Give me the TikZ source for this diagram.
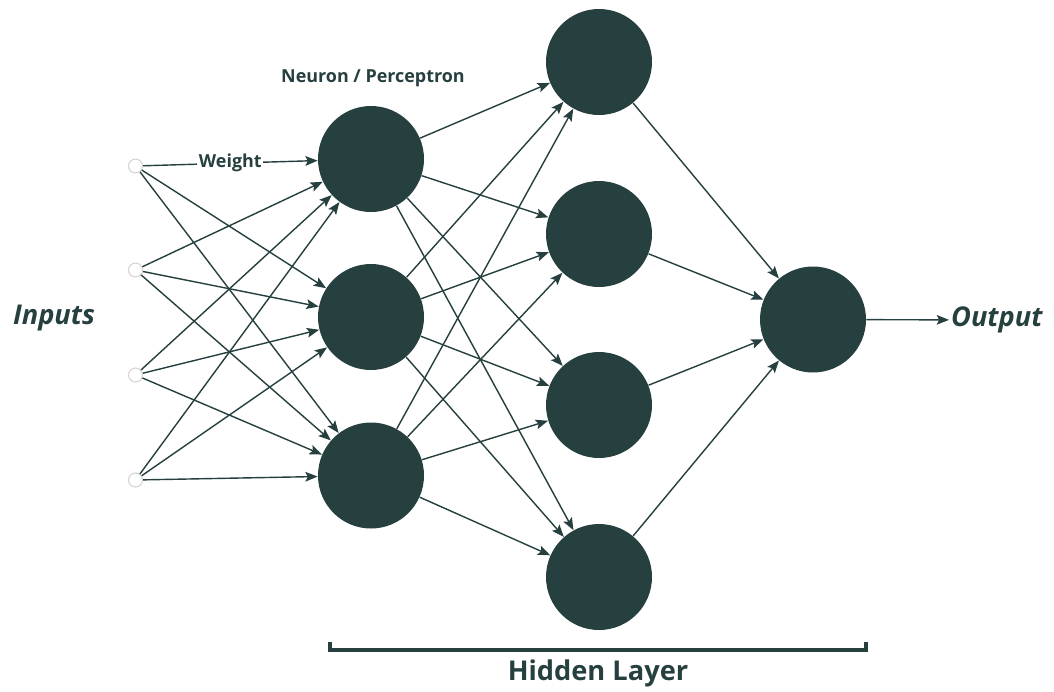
\documentclass[tikz,border=0pt]{standalone}
\usepackage{fontspec}
\setmainfont{Open Sans}
\usetikzlibrary{arrows.meta}
\definecolor{nndark}{HTML}{263F3F}
\definecolor{dotgrey}{HTML}{D2D2D2}
\tikzset{
  neuron/.style={circle,fill=nndark,minimum size=2.12cm,inner sep=0pt},
  inputdot/.style={circle,draw=dotgrey,fill=white,line width=0.6pt,minimum size=0.28cm,inner sep=0pt},
  link/.style={-{Stealth[length=7pt,width=5.5pt,inset=1.4pt]},draw=nndark,line width=0.8pt},
  smalllbl/.style={text=nndark,font=\bfseries\fontsize{10.2}{12}\selectfont},
  sidelbl/.style={text=nndark,font=\bfseries\itshape\fontsize{15.5}{18}\selectfont},
  layerlbl/.style={text=nndark,font=\bfseries\fontsize{15.5}{18}\selectfont},
}
\begin{document}
\begin{tikzpicture}
\useasboundingbox (0,0) rectangle (21.08,-13.82);
% inputs
\node[inputdot] (in1) at (2.71,-3.32) {};
\node[inputdot] (in2) at (2.71,-5.40) {};
\node[inputdot] (in3) at (2.71,-7.50) {};
\node[inputdot] (in4) at (2.71,-9.60) {};
% first hidden layer
\node[neuron] (hA1) at (7.42,-3.18) {};
\node[neuron] (hA2) at (7.42,-6.34) {};
\node[neuron] (hA3) at (7.42,-9.51) {};
% second hidden layer
\node[neuron] (hB1) at (11.98,-1.24) {};
\node[neuron] (hB2) at (11.98,-4.68) {};
\node[neuron] (hB3) at (11.98,-8.10) {};
\node[neuron] (hB4) at (11.98,-11.54) {};
% output
\node[neuron] (outn) at (16.26,-6.39) {};
\node[sidelbl,anchor=west,inner sep=1pt] (outtxt) at (18.98,-6.40) {Output};
\node[sidelbl] (intxt) at (1.08,-6.36) {Inputs};
\node[smalllbl] (neulbl) at (7.46,-1.56) {Neuron / Perceptron};
% inputs -> first layer
\draw[link] (in1) -- node[smalllbl,fill=white,inner sep=1pt] (wlbl) {Weight} (hA1);
\draw[link] (in1) -- (hA2);
\draw[link] (in1) -- (hA3);
\draw[link] (in2) -- (hA1);
\draw[link] (in2) -- (hA2);
\draw[link] (in2) -- (hA3);
\draw[link] (in3) -- (hA1);
\draw[link] (in3) -- (hA2);
\draw[link] (in3) -- (hA3);
\draw[link] (in4) -- (hA1);
\draw[link] (in4) -- (hA2);
\draw[link] (in4) -- (hA3);
% first layer -> second layer
\draw[link] (hA1) -- (hB1);
\draw[link] (hA1) -- (hB2);
\draw[link] (hA1) -- (hB3);
\draw[link] (hA1) -- (hB4);
\draw[link] (hA2) -- (hB1);
\draw[link] (hA2) -- (hB2);
\draw[link] (hA2) -- (hB3);
\draw[link] (hA2) -- (hB4);
\draw[link] (hA3) -- (hB1);
\draw[link] (hA3) -- (hB2);
\draw[link] (hA3) -- (hB3);
\draw[link] (hA3) -- (hB4);
% second layer -> output
\draw[link] (hB1) -- (outn);
\draw[link] (hB2) -- (outn);
\draw[link] (hB3) -- (outn);
\draw[link] (hB4) -- (outn);
\draw[link] (outn) -- (outtxt);
% bracket
\draw[nndark,line width=2pt] (6.60,-12.84) -- (6.60,-13.00) -- (17.32,-13.00) -- (17.32,-12.84);
\node[layerlbl] (hidlbl) at (11.96,-13.46) {Hidden Layer};
\end{tikzpicture}
\end{document}
